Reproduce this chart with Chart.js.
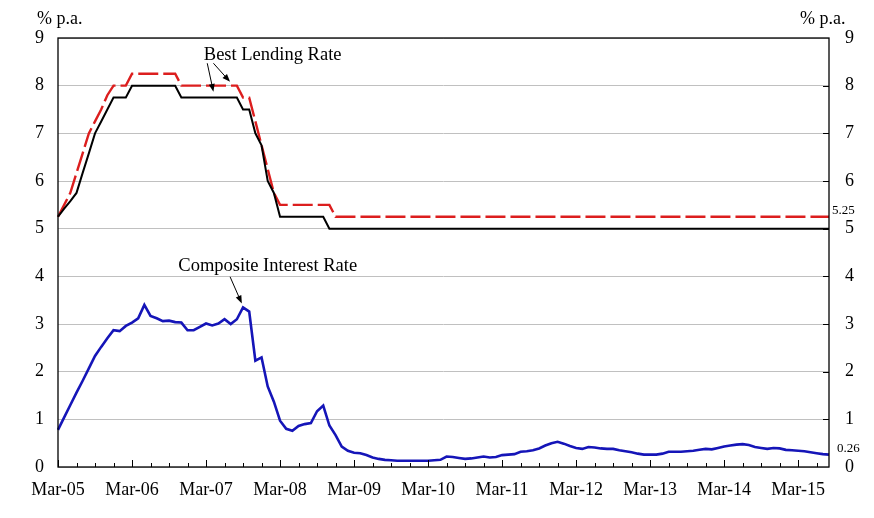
<!DOCTYPE html>
<html>
<head>
<meta charset="utf-8">
<script src="https://cdn.jsdelivr.net/npm/chart.js@4.4.0/dist/chart.umd.min.js"></script>
<style>
  html, body { margin: 0; padding: 0; background: #fff; }
  canvas { display: block; }
</style>
</head>
<body>
<canvas id="chartRates" width="874" height="518"></canvas>
<script>
// Months Mar-05 .. Aug-15 (monthly)
var monthNames = ['Jan', 'Feb', 'Mar', 'Apr', 'May', 'Jun', 'Jul', 'Aug', 'Sep', 'Oct', 'Nov', 'Dec'];
var months = [];
for (var k = 0; k < 126; k++) {
    var m = (2 + k) % 12;
    var yr = 5 + Math.floor((2 + k) / 12);
    months.push(monthNames[m] + '-' + (yr < 10 ? '0' + yr : '' + yr));
}

var xTickLabels = ['Mar-05', 'Mar-06', 'Mar-07', 'Mar-08', 'Mar-09', 'Mar-10',
                   'Mar-11', 'Mar-12', 'Mar-13', 'Mar-14', 'Mar-15'];
var yTicks = [0, 1, 2, 3, 4, 5, 6, 7, 8, 9];

// Best Lending Rate (lower, solid black)
var blrLow = [
    5.25, 5.42, 5.58, 5.75, 6.17, 6.58, 7.0, 7.25, 7.5, 7.75, 7.75, 7.75,
    8, 8, 8, 8, 8, 8, 8, 8, 7.75, 7.75, 7.75, 7.75,
    7.75, 7.75, 7.75, 7.75, 7.75, 7.75, 7.5, 7.5, 7.0, 6.75, 6.0, 5.75,
    5.25, 5.25, 5.25, 5.25, 5.25, 5.25, 5.25, 5.25, 5, 5, 5, 5,
    5, 5, 5, 5, 5, 5, 5, 5, 5, 5, 5, 5,
    5, 5, 5, 5, 5, 5, 5, 5, 5, 5, 5, 5,
    5, 5, 5, 5, 5, 5, 5, 5, 5, 5, 5, 5,
    5, 5, 5, 5, 5, 5, 5, 5, 5, 5, 5, 5,
    5, 5, 5, 5, 5, 5, 5, 5, 5, 5, 5, 5,
    5, 5, 5, 5, 5, 5, 5, 5, 5, 5, 5, 5,
    5, 5, 5, 5, 5, 5
];

// Best Lending Rate (upper, dashed red)
var blrHigh = [
    5.25, 5.5, 5.75, 6.17, 6.58, 7.0, 7.25, 7.5, 7.8, 8, 8, 8,
    8.25, 8.25, 8.25, 8.25, 8.25, 8.25, 8.25, 8.25, 8, 8, 8, 8,
    8, 8, 8, 8, 8, 8, 7.75, 7.75, 7.25, 6.75, 6.25, 5.75,
    5.5, 5.5, 5.5, 5.5, 5.5, 5.5, 5.5, 5.5, 5.5, 5.25, 5.25, 5.25,
    5.25, 5.25, 5.25, 5.25, 5.25, 5.25, 5.25, 5.25, 5.25, 5.25, 5.25, 5.25,
    5.25, 5.25, 5.25, 5.25, 5.25, 5.25, 5.25, 5.25, 5.25, 5.25, 5.25, 5.25,
    5.25, 5.25, 5.25, 5.25, 5.25, 5.25, 5.25, 5.25, 5.25, 5.25, 5.25, 5.25,
    5.25, 5.25, 5.25, 5.25, 5.25, 5.25, 5.25, 5.25, 5.25, 5.25, 5.25, 5.25,
    5.25, 5.25, 5.25, 5.25, 5.25, 5.25, 5.25, 5.25, 5.25, 5.25, 5.25, 5.25,
    5.25, 5.25, 5.25, 5.25, 5.25, 5.25, 5.25, 5.25, 5.25, 5.25, 5.25, 5.25,
    5.25, 5.25, 5.25, 5.25, 5.25, 5.25
];

// Composite Interest Rate (blue)
var composite = [
    0.78, 1.04, 1.30, 1.56, 1.81, 2.07, 2.33, 2.52, 2.70, 2.87, 2.85, 2.96,
    3.03, 3.12, 3.40, 3.17, 3.12, 3.06, 3.07, 3.04, 3.03, 2.87, 2.87, 2.94,
    3.01, 2.97, 3.01, 3.10, 3.00, 3.10, 3.35, 3.26, 2.23, 2.30, 1.69, 1.37,
    0.97, 0.80, 0.76, 0.86, 0.90, 0.92, 1.17, 1.29, 0.87, 0.67, 0.43, 0.34,
    0.30, 0.29, 0.25, 0.20, 0.17, 0.15, 0.14, 0.13, 0.13, 0.13, 0.13, 0.13,
    0.13, 0.14, 0.15, 0.22, 0.21, 0.19, 0.17, 0.18, 0.20, 0.22, 0.20, 0.21,
    0.25, 0.26, 0.27, 0.32, 0.33, 0.35, 0.39, 0.45, 0.50, 0.53, 0.49, 0.44,
    0.40, 0.38, 0.42, 0.41, 0.39, 0.38, 0.38, 0.35, 0.33, 0.31, 0.28, 0.26,
    0.26, 0.26, 0.28, 0.32, 0.32, 0.32, 0.33, 0.34, 0.36, 0.38, 0.37, 0.40,
    0.43, 0.45, 0.47, 0.48, 0.46, 0.42, 0.40, 0.38, 0.40, 0.39, 0.36, 0.35,
    0.34, 0.33, 0.31, 0.29, 0.27, 0.26
];

var serif = '"Liberation Serif", "Times New Roman", serif';

function arrow(ctx, x1, y1, x2, y2) {
    var a = Math.atan2(y2 - y1, x2 - x1);
    var len = 8, w = 3;
    ctx.beginPath();
    ctx.moveTo(x1, y1);
    ctx.lineTo(x2 - Math.cos(a) * len * 0.8, y2 - Math.sin(a) * len * 0.8);
    ctx.stroke();
    ctx.beginPath();
    ctx.moveTo(x2, y2);
    ctx.lineTo(x2 - Math.cos(a) * len - Math.sin(a) * w, y2 - Math.sin(a) * len + Math.cos(a) * w);
    ctx.lineTo(x2 - Math.cos(a) * len + Math.sin(a) * w, y2 - Math.sin(a) * len - Math.cos(a) * w);
    ctx.closePath();
    ctx.fill();
}

// frame, inward ticks, labels and arrows
var extras = {
    id: 'extras',
    afterDraw: function (chart) {
        var ctx = chart.ctx;
        var a = chart.chartArea;
        var sx = chart.scales.x, sy = chart.scales.y;
        ctx.save();
        ctx.strokeStyle = '#000';
        ctx.fillStyle = '#000';
        ctx.lineWidth = 1.3;
        ctx.strokeRect(a.left, a.top, a.right - a.left, a.bottom - a.top);

        // quarterly ticks, yearly ones longer
        ctx.lineWidth = 1;
        for (var i = 0; i < months.length; i += 3) {
            var px = Math.round(sx.getPixelForValue(i)) + 0.5;
            var h = (i % 12 === 0) ? 7 : 4;
            ctx.beginPath();
            ctx.moveTo(px, a.bottom);
            ctx.lineTo(px, a.bottom - h);
            ctx.stroke();
        }
        // right axis ticks
        for (var j = 1; j < 9; j++) {
            var py = Math.round(sy.getPixelForValue(j)) + 0.5;
            ctx.beginPath();
            ctx.moveTo(a.right - 6, py);
            ctx.lineTo(a.right, py);
            ctx.stroke();
        }

        ctx.font = '18px ' + serif;
        ctx.textBaseline = 'middle';
        ctx.textAlign = 'left';
        ctx.fillText('% p.a.', 37, 19);
        ctx.fillText('% p.a.', 800, 19);

        ctx.font = '13px ' + serif;
        ctx.fillText('5.25', a.right + 3, sy.getPixelForValue(blrHigh[blrHigh.length - 1]) - 6);
        ctx.fillText('0.26', a.right + 8, sy.getPixelForValue(composite[composite.length - 1]) - 6);

        ctx.font = '18.5px ' + serif;
        ctx.textAlign = 'center';
        ctx.fillText('Best Lending Rate', sx.getPixelForValue(34.8), sy.getPixelForValue(8.64));
        ctx.fillText('Composite Interest Rate', sx.getPixelForValue(34.0), sy.getPixelForValue(4.22));

        ctx.lineWidth = 1;
        arrow(ctx, sx.getPixelForValue(24.2), sy.getPixelForValue(8.47), sx.getPixelForValue(25.2), sy.getPixelForValue(7.87));
        arrow(ctx, sx.getPixelForValue(25.2), sy.getPixelForValue(8.47), sx.getPixelForValue(27.9), sy.getPixelForValue(8.08));
        arrow(ctx, sx.getPixelForValue(27.9), sy.getPixelForValue(3.99), sx.getPixelForValue(29.8), sy.getPixelForValue(3.43));
        ctx.restore();
    }
};

var ctx = document.getElementById('chartRates').getContext('2d');

var data = {
    labels: months,
    datasets: [{
        label: 'Composite Interest Rate',
        data: composite,
        borderColor: '#1515b8',
        borderWidth: 2.6,
        pointRadius: 0,
        tension: 0
    }, {
        label: 'Best Lending Rate (low)',
        data: blrLow,
        borderColor: '#000000',
        borderWidth: 2,
        pointRadius: 0,
        tension: 0
    }, {
        label: 'Best Lending Rate (high)',
        data: blrHigh,
        borderColor: '#dc1e1e',
        borderWidth: 2.4,
        borderDash: [20, 5],
        pointRadius: 0,
        tension: 0
    }]
};

var options = {
    responsive: false,
    animation: false,
    devicePixelRatio: 1,
    layout: { padding: { top: 38, left: 0, right: 0, bottom: 0 } },
    plugins: {
        legend: { display: false },
        tooltip: { enabled: false }
    },
    scales: {
        x: {
            type: 'category',
            offset: false,
            grid: { display: false, drawTicks: false },
            border: { display: false },
            ticks: {
                autoSkip: false,
                maxRotation: 0,
                padding: 12,
                color: '#000',
                font: { family: serif, size: 18 },
                callback: function (v, i) {
                    var l = months[i];
                    return xTickLabels.indexOf(l) >= 0 ? l : '';
                }
            },
            afterFit: function (s) { s.height = 51; }
        },
        y: {
            position: 'left',
            min: 0,
            max: 9,
            grid: { color: '#c0c0c0', lineWidth: 1, drawTicks: false },
            border: { display: false },
            ticks: {
                stepSize: 1,
                padding: 14,
                color: '#000',
                font: { family: serif, size: 18 },
                callback: function (v) { return yTicks.indexOf(v) >= 0 ? v : ''; }
            },
            afterFit: function (s) { s.width = 58; }
        },
        y1: {
            position: 'right',
            min: 0,
            max: 9,
            grid: { drawOnChartArea: false, drawTicks: false },
            border: { display: false },
            ticks: {
                stepSize: 1,
                padding: 16,
                color: '#000',
                font: { family: serif, size: 18 },
                callback: function (v) { return yTicks.indexOf(v) >= 0 ? v : ''; }
            },
            afterFit: function (s) { s.width = 45; }
        }
    }
};

var myChart = new Chart(ctx, {
    type: 'line',
    data: data,
    options: options,
    plugins: [extras]
});
</script>
</body>
</html>
